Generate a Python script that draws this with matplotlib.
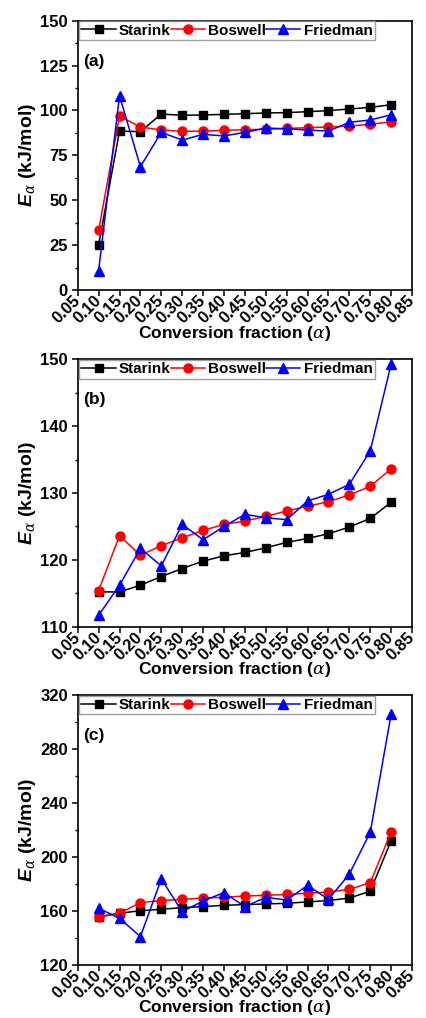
import matplotlib
matplotlib.use("Agg")
import matplotlib.pyplot as plt
import numpy as np
from matplotlib.ticker import MultipleLocator

plt.rcParams['font.family'] = ['Liberation Sans', 'DejaVu Sans']
plt.rcParams['font.weight'] = 'bold'
plt.rcParams['mathtext.fontset'] = 'custom'
plt.rcParams['mathtext.rm'] = 'Liberation Sans:weight=bold'
plt.rcParams['mathtext.it'] = 'DejaVu Serif:style=italic:weight=normal'
plt.rcParams['mathtext.bfit'] = 'Liberation Sans:style=italic:weight=bold'

alpha = [0.10, 0.15, 0.20, 0.25, 0.30, 0.35, 0.40, 0.45, 0.50, 0.55, 0.60, 0.65, 0.70, 0.75, 0.80]

starink_a = [25.1, 88.5, 88.2, 98.0, 97.3, 97.5, 97.8, 98.2, 98.6, 98.8, 99.3, 99.9, 100.8, 101.7, 103.2]
boswell_a = [33.2, 96.9, 90.8, 89.1, 88.4, 88.5, 88.9, 89.3, 89.5, 90.0, 90.4, 90.8, 91.3, 92.3, 93.6]
friedman_a = [10.8, 108.2, 68.7, 87.8, 83.5, 86.7, 85.8, 87.8, 90.2, 89.8, 89.1, 88.5, 93.4, 94.7, 97.6]

starink_b = [115.2, 115.2, 116.2, 117.5, 118.7, 119.8, 120.6, 121.1, 121.8, 122.6, 123.2, 123.9, 124.9, 126.2, 128.6]
boswell_b = [115.4, 123.6, 120.7, 122.1, 123.3, 124.4, 125.3, 125.8, 126.5, 127.3, 128.0, 128.7, 129.7, 131.0, 133.6]
friedman_b = [111.7, 116.2, 121.7, 119.1, 125.3, 123.0, 125.0, 126.8, 126.3, 126.0, 128.8, 129.8, 131.3, 136.3, 149.3]

starink_c = [155.8, 158.3, 160.2, 161.2, 162.5, 163.2, 164.2, 164.7, 165.2, 165.7, 166.7, 167.7, 169.6, 174.6, 212.1]
boswell_c = [155.3, 158.3, 166.2, 167.7, 168.6, 169.6, 170.1, 171.1, 171.6, 172.3, 173.1, 174.1, 176.0, 181.0, 218.5]
friedman_c = [162.0, 154.6, 141.0, 183.7, 159.5, 167.4, 173.6, 163.2, 170.1, 168.1, 179.0, 168.6, 187.4, 218.3, 305.9]

panels = [
    ("(a)", starink_a, boswell_a, friedman_a, (0, 150), 25, 12.5),
    ("(b)", starink_b, boswell_b, friedman_b, (110, 150), 10, 5),
    ("(c)", starink_c, boswell_c, friedman_c, (120, 320), 40, 20),
]
xticks = [0.05, 0.10, 0.15, 0.20, 0.25, 0.30, 0.35, 0.40, 0.45, 0.50, 0.55, 0.60, 0.65, 0.70, 0.75, 0.80, 0.85]

fig = plt.figure(figsize=(4.27, 10.18), dpi=100)
rects = [
    [0.182, 0.7151, 0.783, 0.2646],
    [0.182, 0.3844, 0.783, 0.2627],
    [0.182, 0.0521, 0.783, 0.2652],
]

for rect, (lab, s, b, f, ylim, maj, mnr) in zip(rects, panels):
    ax = fig.add_axes(rect)
    hpx = rect[3] * 1018
    wpx = rect[2] * 427
    ax.plot(alpha, s, '-s', color='black', lw=1.1, ms=5.5, label='Starink')
    ax.plot(alpha, b, '-o', color='red', lw=1.1, ms=6.5, label='Boswell')
    ax.plot(alpha, f, '-^', color='blue', lw=1.1, ms=7, label='Friedman')
    ax.set_xlim(0.05, 0.85)
    ax.set_ylim(*ylim)
    ax.set_xticks(xticks)
    ax.set_xticklabels([f"{t:.2f}" for t in xticks], rotation=45, ha='right', va='center',
                       rotation_mode='anchor', fontsize=12, fontweight='bold')
    ax.yaxis.set_major_locator(MultipleLocator(maj))
    ax.yaxis.set_minor_locator(MultipleLocator(mnr))
    ax.tick_params(axis='y', which='major', direction='out', length=4, width=1.1,
                   labelsize=12, pad=3)
    ax.tick_params(axis='y', which='minor', direction='out', length=2.5, width=1.0)
    ax.tick_params(axis='x', which='major', direction='out', length=4, width=1.1, pad=2)
    for lbl in ax.get_yticklabels():
        lbl.set_fontweight('bold')
    for sp in ax.spines.values():
        sp.set_linewidth(1.2)
    ax.set_xlabel(r'Conversion fraction ($\alpha$)', fontsize=12.5, fontweight='bold')
    ax.xaxis.set_label_coords((235.0 - 77.7) / wpx, -43.0 / hpx)
    ax.xaxis.label.set_va('center')
    ax.set_ylabel(r'$\mathbfit{E}_{\alpha}$ (kJ/mol)', fontsize=14, fontweight='bold')
    ax.yaxis.set_label_coords(-50.0 / wpx, 0.5)
    ax.yaxis.label.set_va('center')
    ax.text(5.5 / wpx, 1 - 40.5 / hpx, lab, transform=ax.transAxes, fontsize=12.5,
            fontweight='bold', ha='left', va='center')
    leg = ax.legend(loc='upper left', bbox_to_anchor=(0.004, 0.997), ncol=3,
                    frameon=True, fancybox=False, edgecolor='#888888', handlelength=2.25,
                    handletextpad=0.2, columnspacing=0.0, borderpad=0.15, borderaxespad=0.0,
                    prop={'weight': 'bold', 'size': 11})
    leg.get_frame().set_linewidth(1.0)

fig.savefig('out.png', dpi=100)
